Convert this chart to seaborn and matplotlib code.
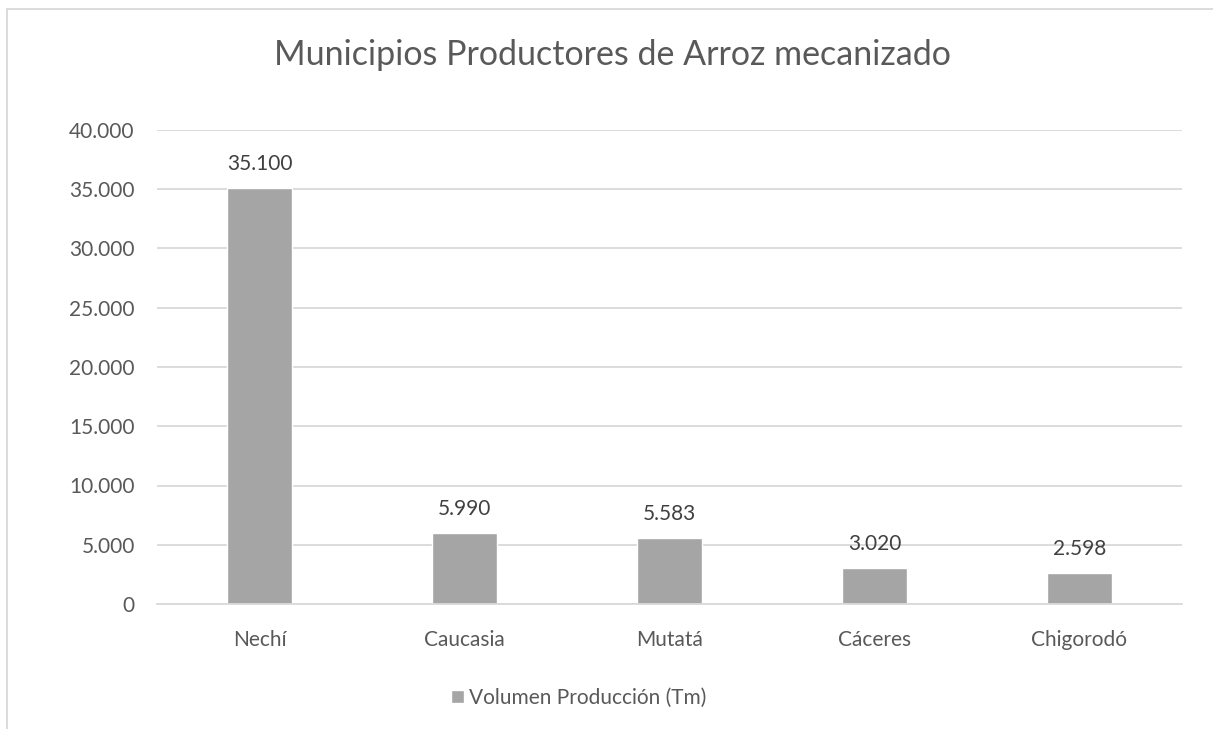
import matplotlib
matplotlib.use('Agg')
import matplotlib.pyplot as plt
import matplotlib.ticker as mticker
from matplotlib.lines import Line2D
import pandas as pd
import seaborn as sns

# Datos
municipios = ["Nechí", "Caucasia", "Mutatá", "Cáceres", "Chigorodó"]
volumen = [35100, 5990, 5583, 3020, 2598]
serie = "Volumen Producción (Tm)"
titulo = "Municipios Productores de Arroz mecanizado"

BAR = "#A5A5A5"
GRID = "#D9D9D9"
TXT = "#595959"
FS = 15

sns.set_theme(style="white")
plt.rcParams['font.family'] = ['Lato', 'DejaVu Sans']

df = pd.DataFrame({"Municipio": municipios, serie: volumen})


def miles(v, pos=None):
    return f"{v:,.0f}".replace(",", ".")


fig = plt.figure(figsize=(12.13, 7.29), dpi=100)
ax = fig.add_axes([157 / 1213, 1 - 604 / 729, (1182 - 157) / 1213, (604 - 130) / 729])

sns.barplot(data=df, x="Municipio", y=serie, color=BAR, width=0.32,
            saturation=1, ax=ax, label=serie)

ax.set_ylim(0, 40000)
ax.yaxis.set_major_locator(mticker.MultipleLocator(5000))
ax.yaxis.set_major_formatter(mticker.FuncFormatter(miles))
ax.grid(axis='y', color=GRID, linewidth=1.3)
ax.set_axisbelow(True)
for s in ['top', 'right', 'left']:
    ax.spines[s].set_visible(False)
ax.spines['bottom'].set_color(GRID)
ax.spines['bottom'].set_linewidth(1.3)
ax.set_xlabel("")
ax.set_ylabel("")
ax.tick_params(axis='y', length=0, pad=16, labelsize=FS, labelcolor=TXT)
ax.tick_params(axis='x', length=0, pad=19, labelsize=FS, labelcolor=TXT)
ax.set_xlim(-0.5, 4.5)

for cont in ax.containers:
    ax.bar_label(cont, labels=[miles(v) for v in volumen], padding=10,
                 fontsize=FS, color="#404040")

fig.text(612 / 1213, 1 - 55 / 729, titulo, ha='center', va='center',
         fontsize=24.5, color=TXT)

leg = ax.legend(loc='center', bbox_to_anchor=(579 / 1213, 1 - 698 / 729),
                bbox_transform=fig.transFigure, frameon=False, fontsize=FS,
                handlelength=0.6, handleheight=0.6, handletextpad=0.25)
for t in leg.get_texts():
    t.set_color(TXT)

# marco del gráfico (recortado a la derecha y abajo)
fig.add_artist(Line2D([7 / 1213, 7 / 1213], [0, 1 - 9 / 729],
                      transform=fig.transFigure, color=GRID, linewidth=1.3))
fig.add_artist(Line2D([7 / 1213, 1], [1 - 9 / 729, 1 - 9 / 729],
                      transform=fig.transFigure, color=GRID, linewidth=1.3))

fig.savefig("out.png", dpi=100, facecolor='white')
plt.close(fig)
